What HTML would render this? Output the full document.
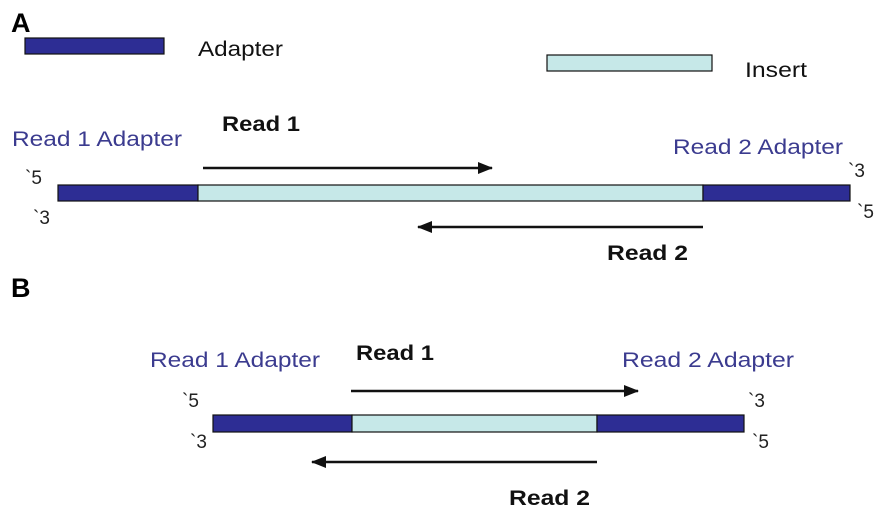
<!DOCTYPE html>
<html><head><meta charset="utf-8"><style>
html,body{margin:0;padding:0;background:#fff;}
svg{display:block;font-family:"Liberation Sans",Arial,sans-serif;}
.lab{font-size:21px;fill:#3b3b8f;}
.b{font-size:21px;font-weight:bold;fill:#111;}
.e{font-size:19px;fill:#222;}
.d{fill:#2d2d94;stroke:#111;stroke-width:1.2;}
.l{fill:#c6e8e8;stroke:#111;stroke-width:1.2;}
</style></head><body>
<svg width="892" height="524" viewBox="0 0 892 524">
<defs><marker id="ah" markerWidth="16" markerHeight="12" refX="14" refY="6" orient="auto" markerUnits="userSpaceOnUse"><path d="M0,0 L15,6 L0,12 z" fill="#111"/></marker></defs>
<text x="11" y="32" font-size="27" font-weight="bold">A</text>
<rect class="d" x="25" y="38" width="139" height="16"/>
<text x="198" y="56" font-size="21" fill="#111" textLength="85" lengthAdjust="spacingAndGlyphs">Adapter</text>
<rect class="l" x="547" y="55" width="165" height="16"/>
<text x="745" y="77" font-size="21" fill="#111" textLength="62" lengthAdjust="spacingAndGlyphs">Insert</text>

<text class="lab" x="12" y="146" textLength="170" lengthAdjust="spacingAndGlyphs">Read 1 Adapter</text>
<text class="b" x="222" y="131" textLength="78" lengthAdjust="spacingAndGlyphs">Read 1</text>
<line x1="203" y1="168" x2="492" y2="168" stroke="#111" stroke-width="2.5" marker-end="url(#ah)"/>
<text class="lab" x="673" y="154" textLength="170" lengthAdjust="spacingAndGlyphs">Read 2 Adapter</text>
<text class="e" x="25" y="184">`5</text>
<text class="e" x="33" y="224">`3</text>
<text class="e" x="848" y="177">`3</text>
<text class="e" x="857" y="218">`5</text>
<rect class="d" x="58" y="185" width="140" height="16"/>
<rect class="l" x="198" y="185" width="505" height="16"/>
<rect class="d" x="703" y="185" width="147" height="16"/>
<line x1="703" y1="227" x2="418" y2="227" stroke="#111" stroke-width="2.5" marker-end="url(#ah)"/>
<text class="b" x="607" y="260" textLength="81" lengthAdjust="spacingAndGlyphs">Read 2</text>

<text x="11" y="297" font-size="27" font-weight="bold">B</text>
<text class="lab" x="150" y="367" textLength="170" lengthAdjust="spacingAndGlyphs">Read 1 Adapter</text>
<text class="b" x="356" y="360" textLength="78" lengthAdjust="spacingAndGlyphs">Read 1</text>
<line x1="351" y1="391" x2="638" y2="391" stroke="#111" stroke-width="2.5" marker-end="url(#ah)"/>
<text class="lab" x="622" y="367" textLength="172" lengthAdjust="spacingAndGlyphs">Read 2 Adapter</text>
<text class="e" x="182" y="407">`5</text>
<text class="e" x="190" y="448">`3</text>
<text class="e" x="748" y="407">`3</text>
<text class="e" x="752" y="448">`5</text>
<rect class="d" x="213" y="415" width="139" height="17"/>
<rect class="l" x="352" y="415" width="245" height="17"/>
<rect class="d" x="597" y="415" width="147" height="17"/>
<line x1="597" y1="462" x2="312" y2="462" stroke="#111" stroke-width="2.5" marker-end="url(#ah)"/>
<text class="b" x="509" y="505" textLength="81" lengthAdjust="spacingAndGlyphs">Read 2</text>
</svg>
</body></html>
